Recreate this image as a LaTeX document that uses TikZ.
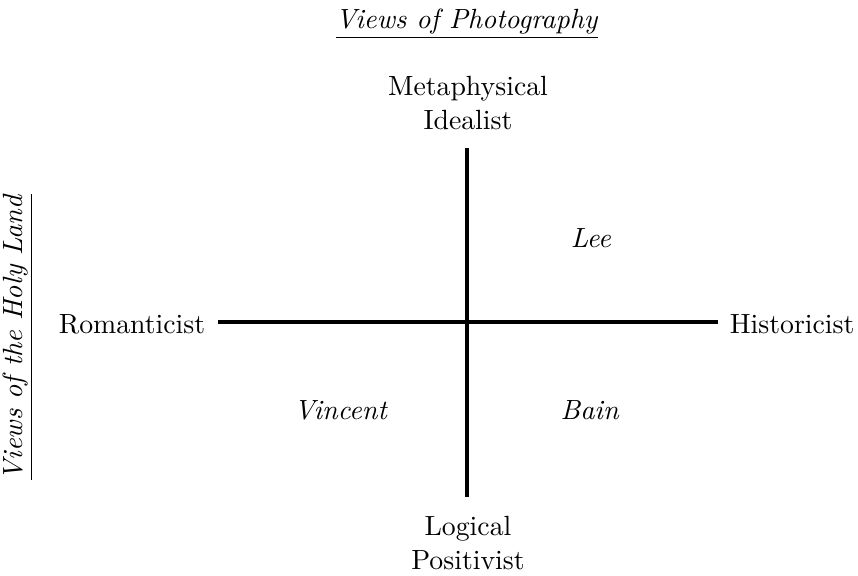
\documentclass[tikz,border=0pt]{standalone}
\usepackage{tikz}

\begin{document}
\begin{tikzpicture}[x=0.36pt,y=-0.36pt]
  \useasboundingbox (0,0) rectangle (858,575);

  % axes
  \coordinate (top) at (467,148);
  \coordinate (bot) at (467,497);
  \coordinate (lft) at (218,322);
  \coordinate (rgt) at (718,322);
  \draw [line width=1.1pt] (top) -- (bot);
  \draw [line width=1.1pt] (lft) -- (rgt);

  % axis labels
  \node [align=center] (meta) at (468,103) {Metaphysical\\Idealist};
  \node [align=center] (logi) at (468,543) {Logical\\Positivist};
  \node [anchor=east] (roma) at (215,324) {Romanticist};
  \node [anchor=west] (hist) at (720,324) {Historicist};

  % titles
  \node (photo) at (467,24) {\underline{\emph{Views of Photography}}};
  \node [rotate=90] (holy) at (18,337) {\underline{\emph{Views of the Holy Land}}};

  % names
  \node (lee) at (591,238) {\emph{Lee}};
  \node (vincent) at (341,410) {\emph{Vincent}};
  \node (bain) at (590,410) {\emph{Bain}};

\end{tikzpicture}
\end{document}
